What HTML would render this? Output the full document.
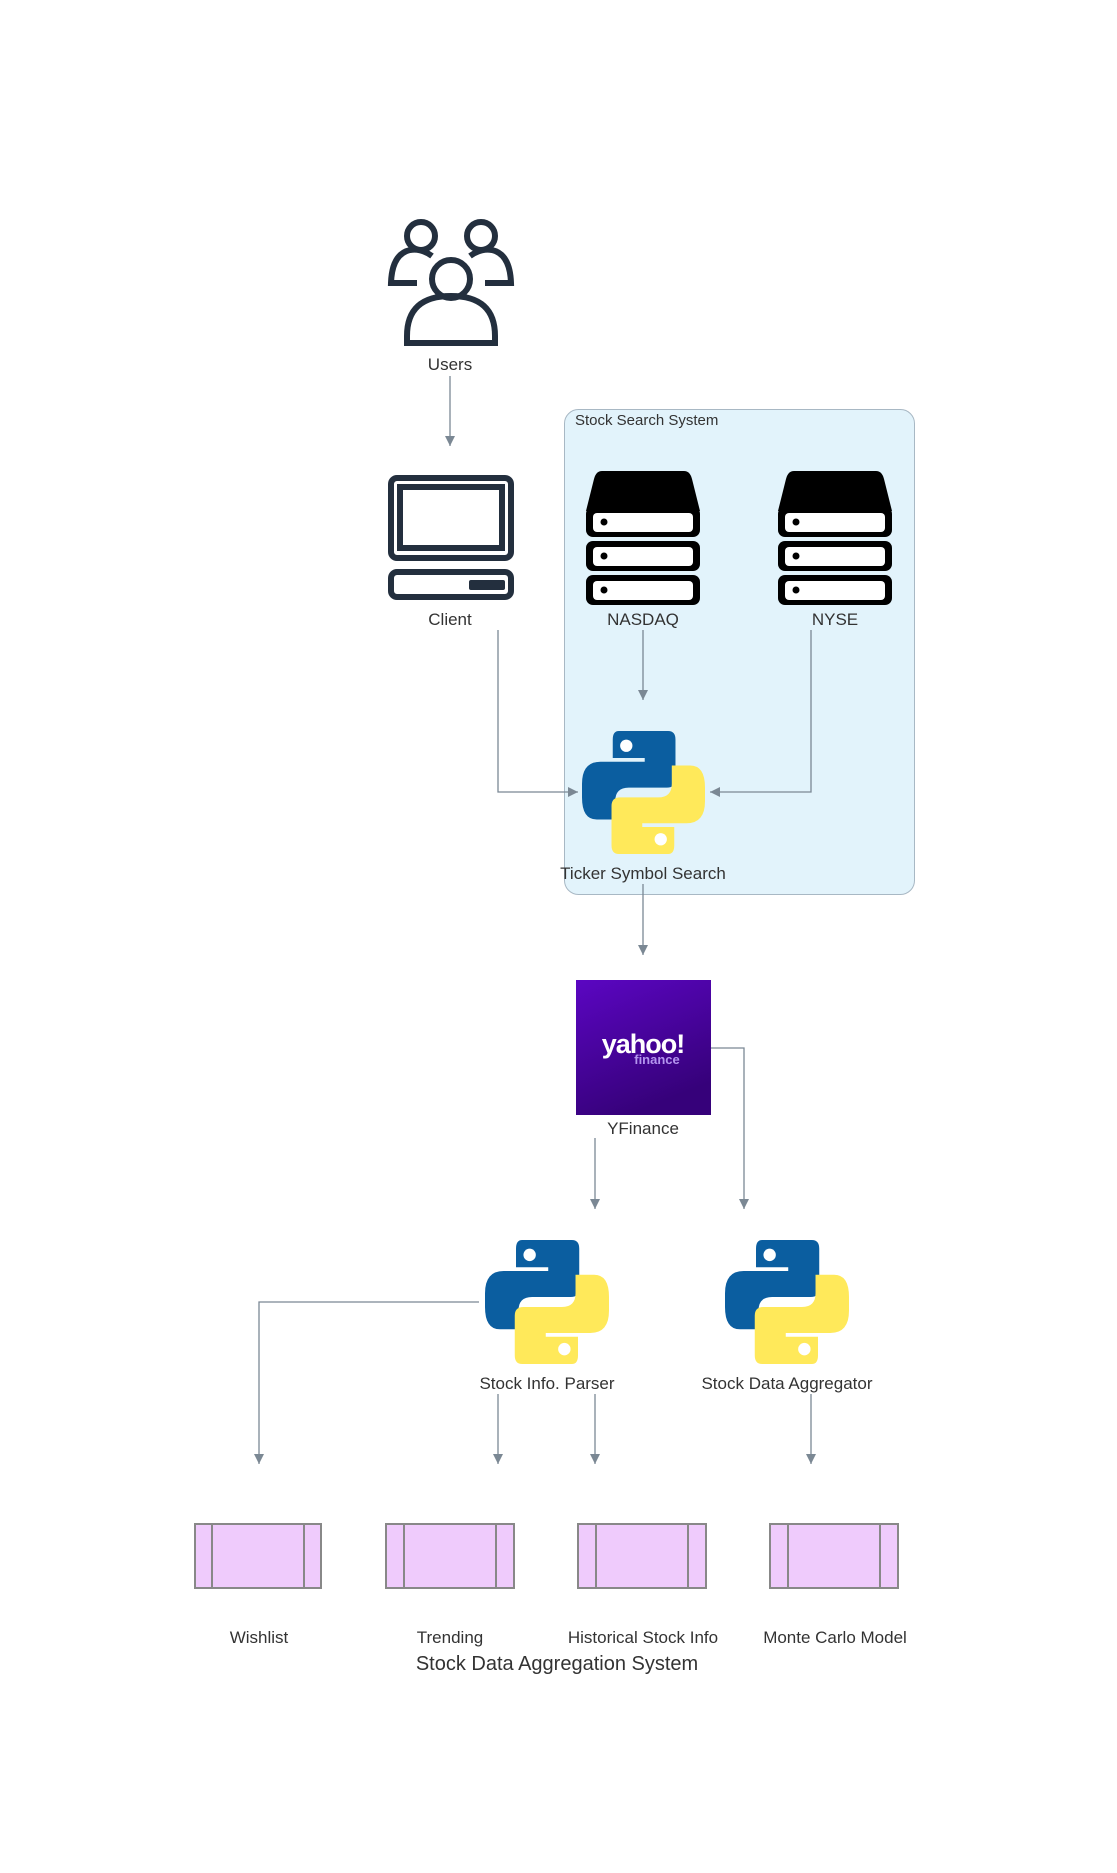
<!DOCTYPE html>
<html><head><meta charset="utf-8"><style>
html,body{margin:0;padding:0;background:#fff;}
svg{display:block;}
text{font-family:"Liberation Sans",Arial,sans-serif;fill:#333;}
</style></head><body>
<svg width="1117" height="1873" viewBox="0 0 1117 1873" xmlns="http://www.w3.org/2000/svg">
<defs>
<symbol id="py" viewBox="0 0 100 100">
<path fill="#0b5ea0" d="M30,0 H70 Q76,0 76,7 V39 Q76,46 69,46 H38 Q27,46 27,57 V72 H12 Q0,72 0,54 V43 Q0,25 15,25 H51 V22 H25 V7 Q25,0 30,0 Z"/>
<path fill="#ffe95a" transform="rotate(180 50 50)" d="M30,0 H70 Q76,0 76,7 V39 Q76,46 69,46 H38 Q27,46 27,57 V72 H12 Q0,72 0,54 V43 Q0,25 15,25 H51 V22 H25 V7 Q25,0 30,0 Z"/>
<circle cx="36" cy="12" r="5" fill="#fff"/>
<circle cx="64" cy="88" r="5" fill="#fff"/>
</symbol>
<symbol id="srv" viewBox="0 0 118 134">
<path d="M18,0 H100 Q106,0 108,8 L116,40 H2 L10,8 Q12,0 18,0 Z" fill="#000"/>
<rect x="2" y="36" width="114" height="30" rx="7" fill="#000"/>
<rect x="2" y="70" width="114" height="30" rx="7" fill="#000"/>
<rect x="2" y="104" width="114" height="30" rx="7" fill="#000"/>
<rect x="9" y="42" width="100" height="19" rx="4" fill="#fff"/>
<rect x="9" y="76" width="100" height="19" rx="4" fill="#fff"/>
<rect x="9" y="110" width="100" height="19" rx="4" fill="#fff"/>
<circle cx="20" cy="51" r="3.5" fill="#000"/>
<circle cx="20" cy="85" r="3.5" fill="#000"/>
<circle cx="20" cy="119" r="3.5" fill="#000"/>
</symbol>
<marker id="ar" viewBox="0 0 10 10" refX="10" refY="5" markerWidth="10" markerHeight="10" markerUnits="userSpaceOnUse" orient="auto">
<path d="M0,0 L10,5 L0,10 Z" fill="#7b8894"/>
</marker>
<linearGradient id="yg" x1="0" y1="0" x2="0.4" y2="1">
<stop offset="0" stop-color="#5b06c2"/><stop offset="1" stop-color="#36017a"/>
</linearGradient>
</defs>

<!-- cluster -->
<rect x="564.5" y="409.5" width="350" height="485" rx="14" fill="#e2f3fb" stroke="#a8b8c4" stroke-width="1"/>
<text x="575" y="425" font-size="15">Stock Search System</text>

<!-- Users icon -->
<g fill="none" stroke="#232f3e" stroke-width="6">
<circle cx="421" cy="236" r="14"/>
<circle cx="481" cy="236" r="14"/>
<path d="M432,256 Q421,248 410,250 Q392,254 391,283 H417"/>
<path d="M470,256 Q481,248 492,250 Q510,254 511,283 H485"/>
<circle cx="451" cy="279" r="19"/>
<path d="M407,343 V336 Q407,296 451,296 Q495,296 495,336 V343 Z"/>
</g>
<text x="450" y="370" font-size="17" text-anchor="middle">Users</text>

<!-- Client icon -->
<g fill="none" stroke="#232f3e" stroke-width="6">
<rect x="391" y="478" width="120" height="80" rx="6"/>
<rect x="400" y="487" width="102" height="61"/>
<rect x="391" y="572" width="120" height="25" rx="6"/>
</g>
<rect x="469" y="580" width="36" height="10" rx="2" fill="#232f3e"/>
<text x="450" y="625" font-size="17" text-anchor="middle">Client</text>

<!-- servers -->
<use href="#srv" x="584" y="471" width="118" height="134"/>
<text x="643" y="625" font-size="17" text-anchor="middle">NASDAQ</text>
<use href="#srv" x="776" y="471" width="118" height="134"/>
<text x="835" y="625" font-size="17" text-anchor="middle">NYSE</text>

<!-- ticker -->
<use href="#py" x="582" y="731" width="123" height="123"/>
<text x="643" y="879" font-size="17" text-anchor="middle">Ticker Symbol Search</text>

<!-- YFinance -->
<rect x="576" y="980" width="135" height="135" fill="url(#yg)"/>
<text x="643" y="1053" font-size="27" font-weight="bold" text-anchor="middle" style="fill:#fff;letter-spacing:-1px">yahoo!</text>
<text x="657" y="1064" font-size="13" font-weight="bold" text-anchor="middle" style="fill:#b495ef">finance</text>
<text x="643" y="1134" font-size="17" text-anchor="middle">YFinance</text>

<!-- parser & aggregator -->
<use href="#py" x="485" y="1240" width="124" height="124"/>
<text x="547" y="1389" font-size="17" text-anchor="middle">Stock Info. Parser</text>
<use href="#py" x="725" y="1240" width="124" height="124"/>
<text x="787" y="1389" font-size="17" text-anchor="middle">Stock Data Aggregator</text>

<!-- boxes -->
<g fill="#efcbfc" stroke="#888" stroke-width="2">
<rect x="195" y="1524" width="126" height="64"/>
<rect x="386" y="1524" width="128" height="64"/>
<rect x="578" y="1524" width="128" height="64"/>
<rect x="770" y="1524" width="128" height="64"/>
</g>
<g stroke="#888" stroke-width="2">
<line x1="212" y1="1524" x2="212" y2="1588"/><line x1="304" y1="1524" x2="304" y2="1588"/>
<line x1="404" y1="1524" x2="404" y2="1588"/><line x1="496" y1="1524" x2="496" y2="1588"/>
<line x1="596" y1="1524" x2="596" y2="1588"/><line x1="688" y1="1524" x2="688" y2="1588"/>
<line x1="788" y1="1524" x2="788" y2="1588"/><line x1="880" y1="1524" x2="880" y2="1588"/>
</g>
<text x="259" y="1643" font-size="17" text-anchor="middle">Wishlist</text>
<text x="450" y="1643" font-size="17" text-anchor="middle">Trending</text>
<text x="643" y="1643" font-size="17" text-anchor="middle">Historical Stock Info</text>
<text x="835" y="1643" font-size="17" text-anchor="middle">Monte Carlo Model</text>
<text x="557" y="1670" font-size="20" text-anchor="middle">Stock Data Aggregation System</text>

<!-- connectors -->
<g fill="none" stroke="#7b8894" stroke-width="1.3" marker-end="url(#ar)">
<path d="M450,376 V446"/>
<path d="M498,630 V792 H578"/>
<path d="M643,630 V700"/>
<path d="M811,630 V792 H710"/>
<path d="M643,884 V955"/>
<path d="M711,1048 H744 V1209"/>
<path d="M595,1138 V1209"/>
<path d="M479,1302 H259 V1464"/>
<path d="M498,1394 V1464"/>
<path d="M595,1394 V1464"/>
<path d="M811,1394 V1464"/>
</g>
</svg>
</body></html>
